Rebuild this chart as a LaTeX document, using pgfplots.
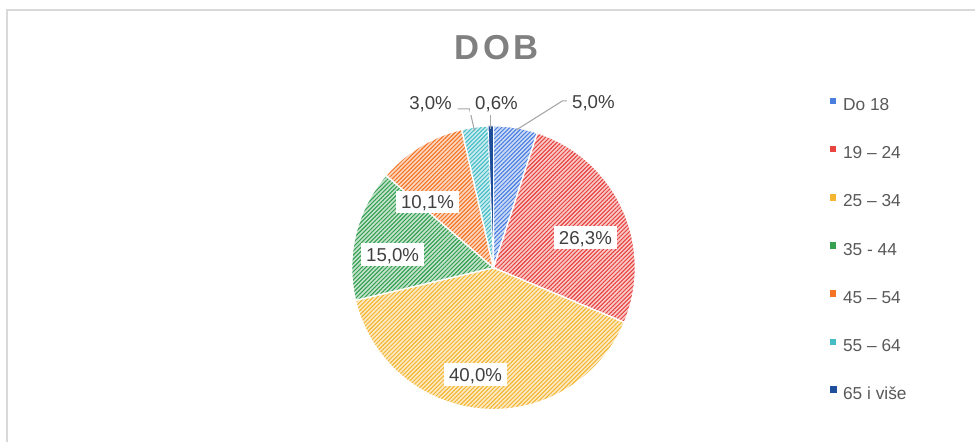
\documentclass[border=0pt]{standalone}
\usepackage{pgfplots}
\pgfplotsset{compat=1.18}
\usepackage{pgfplotstable}
\usetikzlibrary{patterns,patterns.meta}
\usepackage{fontspec}
\setmainfont{Liberation Sans}

\definecolor{cA}{HTML}{4A7FE0}
\definecolor{cB}{HTML}{E84440}
\definecolor{cC}{HTML}{F4B631}
\definecolor{cD}{HTML}{34A050}
\definecolor{cE}{HTML}{F47424}
\definecolor{cF}{HTML}{46BDC6}
\definecolor{cG}{HTML}{1F4E9A}
\definecolor{labgrey}{HTML}{404040}
\definecolor{leggrey}{HTML}{595959}
\definecolor{titgrey}{HTML}{808080}
\definecolor{lead}{HTML}{A6A6A6}
\definecolor{frame}{HTML}{D9D9D9}

\pgfplotstableread{
value
5.0
26.3
40.0
15.0
10.1
3.0
0.6
}\agedata

\pgfplotsset{slice/.style={draw=none,
  preaction={fill=#1!30},
  pattern={Lines[angle=45, distance=2.2pt, line width=0.55pt]}, pattern color=#1,
  postaction={draw=white, line width=1pt},
  legend image code/.code={\fill[#1] (0pt,0.8pt) rectangle (6pt,6.8pt);}}}

\tikzset{lab/.style={fill=white, inner xsep=4pt, inner ysep=0pt, text height=13.5pt, text depth=3.75pt, anchor=base, text=labgrey, font=\fontsize{14}{16}\selectfont}}

\begin{document}
\begin{tikzpicture}
\pgfplotstablegetelem{0}{value}\of\agedata \let\vA\pgfplotsretval
\pgfplotstablegetelem{1}{value}\of\agedata \let\vB\pgfplotsretval
\pgfplotstablegetelem{2}{value}\of\agedata \let\vC\pgfplotsretval
\pgfplotstablegetelem{3}{value}\of\agedata \let\vD\pgfplotsretval
\pgfplotstablegetelem{4}{value}\of\agedata \let\vE\pgfplotsretval
\pgfplotstablegetelem{5}{value}\of\agedata \let\vF\pgfplotsretval
\pgfplotstablegetelem{6}{value}\of\agedata \let\vG\pgfplotsretval
\pgfmathsetmacro\aA{90}
\pgfmathsetmacro\aB{\aA-3.6*\vA}
\pgfmathsetmacro\aC{\aB-3.6*\vB}
\pgfmathsetmacro\aD{\aC-3.6*\vC}
\pgfmathsetmacro\aE{\aD-3.6*\vD}
\pgfmathsetmacro\aF{\aE-3.6*\vE}
\pgfmathsetmacro\aG{\aF-3.6*\vF}
\pgfmathsetmacro\aH{\aG-3.6*\vG}
\begin{axis}[x=0.75pt, y=0.75pt, xmin=0, xmax=976, ymin=0, ymax=442,
  hide axis, clip=false, scale only axis,
  legend cell align=left,
  legend style={at={(axis cs:829,346)}, anchor=north west, draw=none, fill=none,
    inner sep=0pt, row sep=22.9pt, column sep=4pt,
    font=\fontsize{13}{15}\selectfont, text=leggrey,
    nodes={inner sep=0pt, text height=9.5pt, text depth=2.5pt}}]
\path (axis cs:0,0) rectangle (axis cs:976,442);
\draw[frame, line width=1.5pt] (axis cs:7.5,0) -- (axis cs:7.5,431.5) -- (axis cs:976,431.5);

\addplot[slice=cA, domain=\aB:\aA, samples=20, variable=\t] ({494+142*cos(\t)},{174+142*sin(\t)}) -- (axis cs:494,174) -- cycle;
\addlegendentry{Do 18}
\addplot[slice=cB, domain=\aC:\aB, samples=60, variable=\t] ({494+142*cos(\t)},{174+142*sin(\t)}) -- (axis cs:494,174) -- cycle;
\addlegendentry{19 – 24}
\addplot[slice=cC, domain=\aD:\aC, samples=80, variable=\t] ({494+142*cos(\t)},{174+142*sin(\t)}) -- (axis cs:494,174) -- cycle;
\addlegendentry{25 – 34}
\addplot[slice=cD, domain=\aE:\aD, samples=40, variable=\t] ({494+142*cos(\t)},{174+142*sin(\t)}) -- (axis cs:494,174) -- cycle;
\addlegendentry{35 - 44}
\addplot[slice=cE, domain=\aF:\aE, samples=30, variable=\t] ({494+142*cos(\t)},{174+142*sin(\t)}) -- (axis cs:494,174) -- cycle;
\addlegendentry{45 – 54}
\addplot[slice=cF, domain=\aG:\aF, samples=10, variable=\t] ({494+142*cos(\t)},{174+142*sin(\t)}) -- (axis cs:494,174) -- cycle;
\addlegendentry{55 – 64}
\addplot[fill=cG, draw=none, postaction={draw=white, line width=0.6pt},
  legend image code/.code={\fill[cG] (0pt,0.8pt) rectangle (6pt,6.8pt);},
  domain=\aH:\aG, samples=5, variable=\t] ({494+142*cos(\t)},{174+142*sin(\t)}) -- (axis cs:494,174) -- cycle;
\addlegendentry{65 i više}

% leader lines
\draw[lead, line width=0.8pt] (axis cs:569,341) -- (axis cs:563,341) -- (axis cs:517,312);
\draw[lead, line width=0.8pt] (axis cs:458,333) -- (axis cs:470,333) -- (axis cs:475,311);
\draw[lead, line width=0.8pt] (axis cs:491,329) -- (axis cs:491,313);

% data labels
\node[lab] at (axis cs:594,333.3) {5,0\%};
\node[lab] at (axis cs:497,332.3) {0,6\%};
\node[lab] at (axis cs:431,332.3) {3,0\%};
\node[lab] at (axis cs:586,197.3) {26,3\%};
\node[lab] at (axis cs:393,180.3) {15,0\%};
\node[lab] at (axis cs:428,233.3) {10,1\%};
\node[lab] at (axis cs:476,60.3) {40,0\%};

% title
\node[anchor=base, text=titgrey, font=\fontsize{26}{30}\selectfont\bfseries] at (axis cs:497,382.5) {D\kern3pt O\kern3pt B};
\end{axis}
\end{tikzpicture}
\end{document}
